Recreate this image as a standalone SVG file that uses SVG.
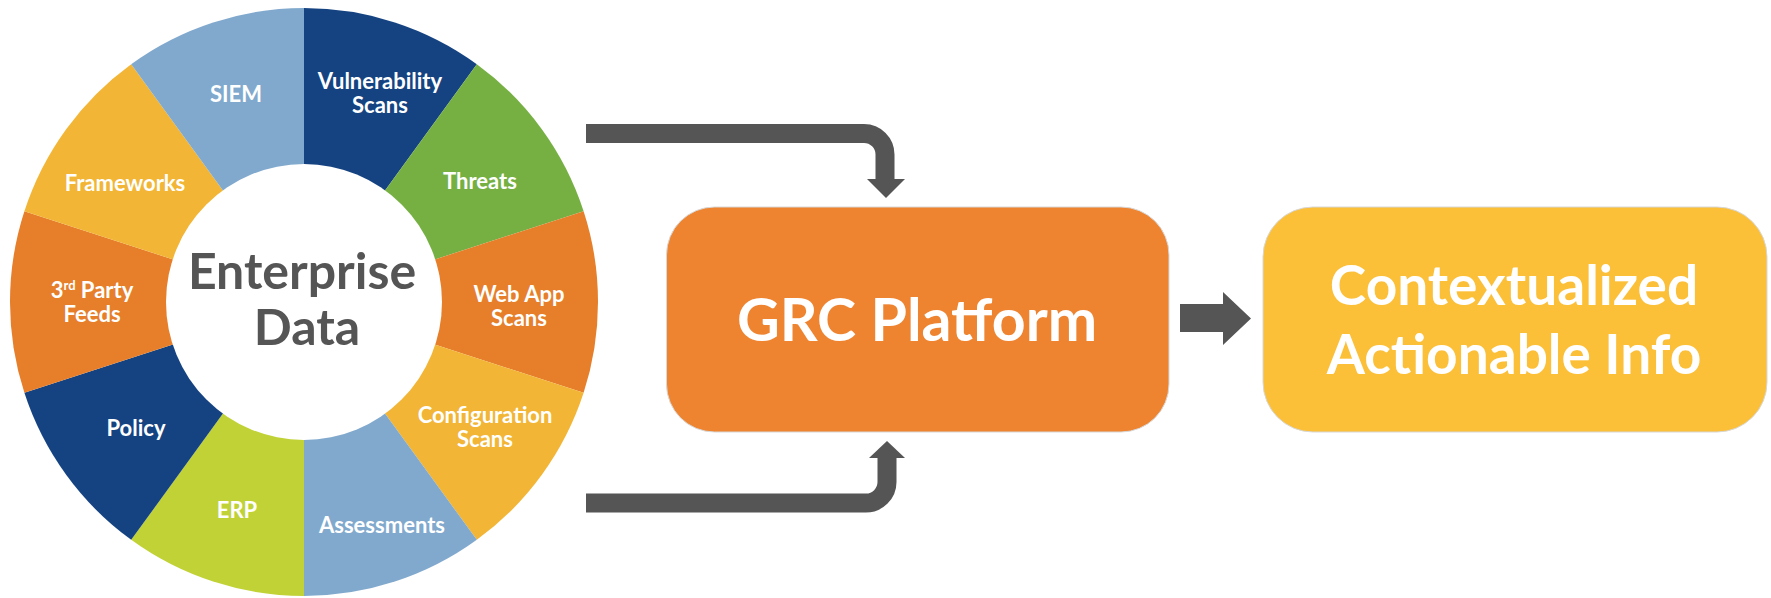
<svg xmlns="http://www.w3.org/2000/svg" width="1771" height="598" viewBox="0 0 1771 598">
<style>
.seg-label{font-family:Lato,"Liberation Sans",sans-serif;font-weight:700;font-size:22px;fill:#ffffff;text-anchor:middle}
.center-label{font-family:Lato,"Liberation Sans",sans-serif;font-weight:700;font-size:50px;fill:#555555;text-anchor:middle}
.box-label{font-family:Lato,"Liberation Sans",sans-serif;font-weight:700;fill:#ffffff;text-anchor:middle}
.conn{fill:none;stroke:#555555;stroke-width:19}
.head{fill:#555555}
</style>
<rect width="1771" height="598" fill="#ffffff"/>
<g id="enterprise-data">
  <g id="seg-vulnerability"><path d="M304 302 L304 8 A294 294 0 0 1 476.81 64.15 Z" fill="#154382"/></g>
  <g id="seg-threats"><path d="M304 302 L476.81 64.15 A294 294 0 0 1 583.61 211.15 Z" fill="#76B043"/></g>
  <g id="seg-webapp"><path d="M304 302 L583.61 211.15 A294 294 0 0 1 583.61 392.85 Z" fill="#E67E2A"/></g>
  <g id="seg-config"><path d="M304 302 L583.61 392.85 A294 294 0 0 1 476.81 539.85 Z" fill="#F2B535"/></g>
  <g id="seg-assessments"><path d="M304 302 L476.81 539.85 A294 294 0 0 1 304 596 Z" fill="#80A9CD"/></g>
  <g id="seg-erp"><path d="M304 302 L304 596 A294 294 0 0 1 131.19 539.85 Z" fill="#C1D237"/></g>
  <g id="seg-policy"><path d="M304 302 L131.19 539.85 A294 294 0 0 1 24.39 392.85 Z" fill="#154382"/></g>
  <g id="seg-3rdparty"><path d="M304 302 L24.39 392.85 A294 294 0 0 1 24.39 211.15 Z" fill="#E67E2A"/></g>
  <g id="seg-frameworks"><path d="M304 302 L24.39 211.15 A294 294 0 0 1 131.19 64.15 Z" fill="#F2B535"/></g>
  <g id="seg-siem"><path d="M304 302 L131.19 64.15 A294 294 0 0 1 304 8 Z" fill="#80A9CD"/></g>
  <circle cx="304" cy="302" r="138" fill="#ffffff"/>
  <text class="seg-label" x="236" y="102">SIEM</text>
  <text class="seg-label" x="380" y="89">Vulnerability</text>
  <text class="seg-label" x="380" y="113">Scans</text>
  <text class="seg-label" x="480" y="189">Threats</text>
  <text class="seg-label" x="519" y="302">Web App</text>
  <text class="seg-label" x="519" y="326">Scans</text>
  <text class="seg-label" x="485" y="423">Configuration</text>
  <text class="seg-label" x="485" y="447">Scans</text>
  <text class="seg-label" x="382" y="533">Assessments</text>
  <text class="seg-label" x="237" y="518">ERP</text>
  <text class="seg-label" x="136" y="436">Policy</text>
  <text class="seg-label" x="92" y="298">3<tspan font-size="13" dy="-8">rd</tspan><tspan dy="8"> Party</tspan></text>
  <text class="seg-label" x="92" y="322">Feeds</text>
  <text class="seg-label" x="125" y="191">Frameworks</text>
  <text class="center-label" x="302" y="289">Enterprise</text>
  <text class="center-label" x="307" y="345">Data</text>
</g>
<g id="grc-platform">
  <rect x="666.5" y="207" width="502.5" height="225" rx="48" fill="#EE8330" stroke="#d8d8d8" stroke-width="1"/>
  <text class="box-label" x="917" y="341" font-size="59">GRC Platform</text>
</g>
<g id="actionable-info">
  <rect x="1263" y="207" width="504" height="225" rx="50" fill="#FBBF38" stroke="#d8d8d8" stroke-width="1"/>
  <text class="box-label" x="1514" y="305" font-size="55">Contextualized</text>
  <text class="box-label" x="1514" y="374" font-size="55">Actionable Info</text>
</g>
<g id="connectors">
  <path class="conn" d="M586 133.5 H864 A21 21 0 0 1 885 154.5 V181"/>
  <polygon class="head" points="867,179 905,179 886,198"/>
  <path class="conn" d="M586 503 H866 A21 21 0 0 0 887 482 V456"/>
  <polygon class="head" points="869,458 905,458 887,441"/>
  <polygon class="head" points="1180,304 1223,304 1223,292 1251,318.5 1223,345 1223,332 1180,332"/>
</g>
</svg>
